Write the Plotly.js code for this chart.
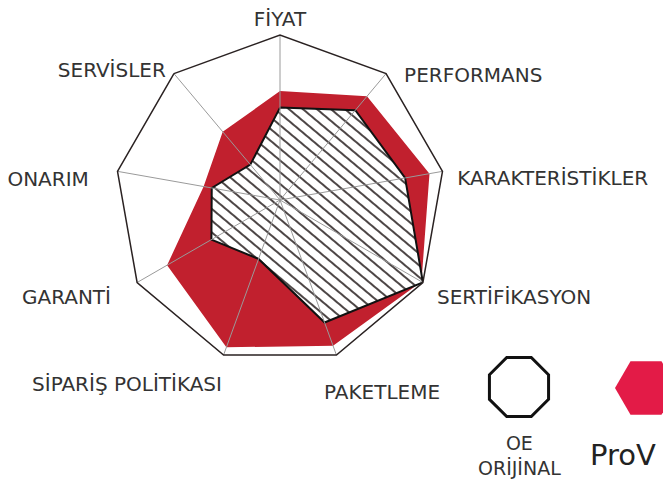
<!DOCTYPE html>
<html><head><meta charset="utf-8">
<script src="https://cdn.plot.ly/plotly-3.0.1.min.js"></script>
<style>html,body{margin:0;padding:0;background:#fff}#c{width:663px;height:504px}</style>
</head><body><div id="c"></div>
<script>
var categories = ['FİYAT','PERFORMANS','KARAKTERİSTİKLER','SERTİFİKASYON','PAKETLEME','SİPARİŞ POLİTİKASI','GARANTİ','ONARIM','SERVİSLER'];
var provValues = [6.6, 8.2, 9.2, 9.9, 9.4, 9.5, 7.9, 4.7, 5.4];
var oeValues   = [5.6, 7.1, 7.7, 10.0, 7.9, 3.8, 4.8, 4.2, 2.8];
var seriesNames = ['OE<br>ORİJİNAL', 'ProV'];

// label nudges (pixels) to mimic the hand-placed category labels, in category order
var labelNudge = [[0,0],[15,11],[10,8],[10,3],[-14,18],[0,10],[-22,3],[-24,9],[-5,6]];

function closed(a){ return a.concat([a[0]]); }
var W=663,H=504;
function px(x){return x/W;} function py(y){return 1-y/H;}
function polyPath(cx,cy,r,n,rot){
  var s='';
  for(var i=0;i<n;i++){var a=rot+i*2*Math.PI/n;var x=cx+r*Math.cos(a),y=cy+r*Math.sin(a);
    s+=(i?'L':'M')+px(x).toFixed(4)+','+py(y).toFixed(4);}
  return s+'Z';
}
var traces = [
  {type:'scatterpolar', r:closed(provValues), theta:closed(categories), mode:'lines',
   fill:'toself', fillcolor:'#c1202e', line:{color:'#c1202e', width:0}, name:'ProV', hoverinfo:'skip'},
  {type:'scatterpolar', r:closed(oeValues), theta:closed(categories), mode:'lines',
   fill:'toself', fillcolor:'white',
   line:{color:'#111', width:2}, name:'OE ORİJİNAL', hoverinfo:'skip'}
];
var layout = {
  width:W, height:H, margin:{l:0,r:0,t:0,b:0}, showlegend:false,
  paper_bgcolor:'white', plot_bgcolor:'white',
  font:{family:'DejaVu Sans', color:'#333'},
  polar:{
    domain:{x:[115/W,445/W], y:[1-365/H, 1-35/H]},
    bgcolor:'white', gridshape:'linear',
    radialaxis:{visible:false, range:[0,10]},
    angularaxis:{rotation:90, direction:'clockwise', showline:true, linecolor:'#2a2222', linewidth:1.5,
      showgrid:true, gridcolor:'#9a9a9a', gridwidth:1, layer:'above traces', ticks:'',
      tickfont:{family:'DejaVu Sans', size:20, color:'#333'}}
  },
  shapes:[
    {type:'path', xref:'paper', yref:'paper', path:polyPath(519,387,32,8,Math.PI/8), line:{color:'#111', width:3}, fillcolor:'rgba(0,0,0,0)'},
    {type:'path', xref:'paper', yref:'paper', path:polyPath(646,388,31,6,Math.PI), line:{width:0}, fillcolor:'#e31b47'}
  ],
  annotations:[
    {xref:'paper', yref:'paper', x:px(519), y:py(455), text:seriesNames[0], showarrow:false, xanchor:'center', yanchor:'middle',
     font:{family:'DejaVu Sans', size:19, color:'#333'}},
    {xref:'paper', yref:'paper', x:px(588), y:py(455), text:seriesNames[1], showarrow:false, xanchor:'left', yanchor:'middle',
     font:{family:'DejaVu Sans', size:29, color:'#222'}}
  ]
};
Plotly.newPlot('c', traces, layout, {displayModeBar:false, staticPlot:true}).then(function(gd){
  var svg = gd.querySelector('svg.main-svg');
  var NS='http://www.w3.org/2000/svg';
  var defs = document.createElementNS(NS,'defs');
  var pat = document.createElementNS(NS,'pattern');
  pat.setAttribute('id','hatchOE'); pat.setAttribute('patternUnits','userSpaceOnUse');
  pat.setAttribute('width','9'); pat.setAttribute('height','9');
  pat.setAttribute('patternTransform','rotate(-50)');
  var bg = document.createElementNS(NS,'rect');
  bg.setAttribute('width','9'); bg.setAttribute('height','9'); bg.setAttribute('fill','white');
  var ln = document.createElementNS(NS,'line');
  ln.setAttribute('x1','1'); ln.setAttribute('y1','0'); ln.setAttribute('x2','1'); ln.setAttribute('y2','9');
  ln.setAttribute('stroke','#201818'); ln.setAttribute('stroke-width','1.6');
  pat.appendChild(bg); pat.appendChild(ln); defs.appendChild(pat);
  svg.insertBefore(defs, svg.firstChild);
  var traceGroups = gd.querySelectorAll('.frontplot .trace');
  if(traceGroups.length>1){
    var f = traceGroups[1].querySelector('.js-fill');
    if(f){ f.style.fill='url(#hatchOE)'; f.style.fillOpacity='1'; }
  }
  // spokes drawn above the filled areas, as in the reference
  var grid = gd.querySelector('.angular-grid');
  var front = gd.querySelector('.frontplot');
  if(grid && front && grid.parentNode===front.parentNode){
    front.parentNode.insertBefore(grid, front.nextSibling);
  }
  // nudge category labels
  var ticks = gd.querySelectorAll('.angularaxistick');
  for(var k=0;k<ticks.length;k++){
    var t = ticks[k].querySelector('text'); if(!t) continue;
    var idx = categories.indexOf(t.textContent.trim());
    if(idx<0) continue;
    var cur = ticks[k].getAttribute('transform')||'';
    ticks[k].setAttribute('transform', cur+' translate('+labelNudge[idx][0]+','+labelNudge[idx][1]+')');
  }
});
</script></body></html>
